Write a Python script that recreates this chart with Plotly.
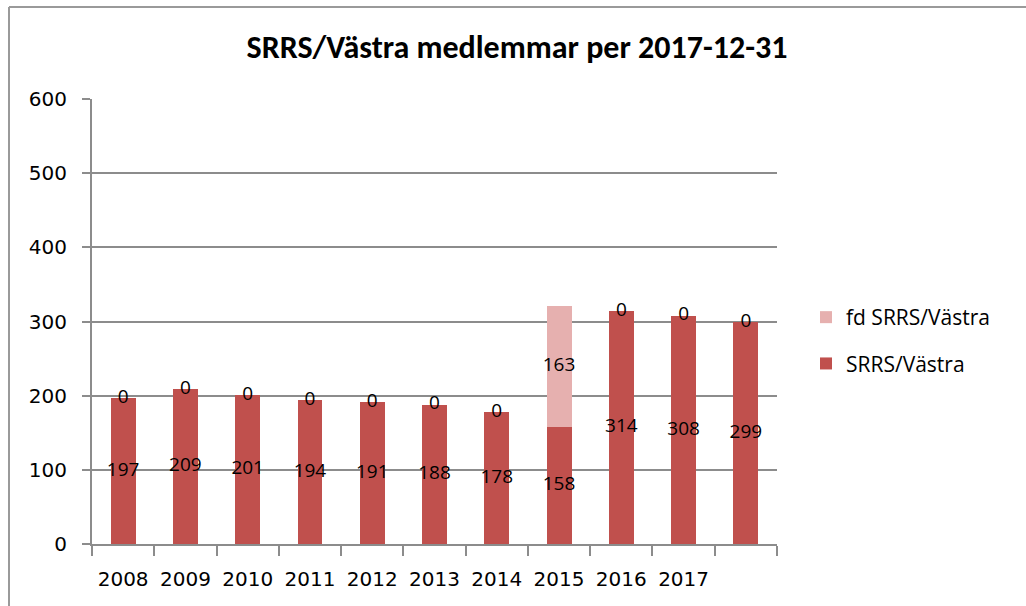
import plotly.graph_objects as go

# ---- data ----
years = ["2008", "2009", "2010", "2011", "2012", "2013", "2014", "2015", "2016", "2017"]
srrs_vastra = [197, 209, 201, 194, 191, 188, 178, 158, 314, 308, 299]
fd_srrs_vastra = [0, 0, 0, 0, 0, 0, 0, 163, 0, 0, 0]
y_ticks = [0, 100, 200, 300, 400, 500, 600]

DARK = "#C0504D"
LIGHT = "#E6B0AF"
GRID = "#8C8C8C"
LABEL_FONT = "Open Sans, Carlito, sans-serif"
TICK_FONT = "DejaVu Sans, Verdana, sans-serif"

W, H = 1026, 606
ML, MR, MT, MB = 92, 249, 99, 62

xpos = list(range(len(srrs_vastra)))
srrs_mid = [v / 2 for v in srrs_vastra]
fd_mid = [a + b / 2 for a, b in zip(srrs_vastra, fd_srrs_vastra)]

fig = go.Figure()
fig.add_trace(go.Bar(
    x=xpos, y=srrs_vastra, name="SRRS/Västra", marker_color=DARK,
    marker_line_width=0, legendgroup="b", legendrank=2, hoverinfo="skip",
))
fig.add_trace(go.Bar(
    x=xpos, y=fd_srrs_vastra, name="fd SRRS/Västra", marker_color=LIGHT,
    marker_line_width=0, legendgroup="a", legendrank=1, hoverinfo="skip",
))
fig.add_trace(go.Scatter(
    x=xpos, y=srrs_mid, mode="text", text=[str(v) for v in srrs_vastra],
    textposition="middle center", showlegend=False, hoverinfo="skip",
    textfont=dict(family=LABEL_FONT, size=19, color="#000000"),
))
fig.add_trace(go.Scatter(
    x=xpos, y=fd_mid, mode="text", text=[str(v) for v in fd_srrs_vastra],
    textposition="middle center", showlegend=False, hoverinfo="skip",
    textfont=dict(family=LABEL_FONT, size=19, color="#000000"),
))

pw = W - ML - MR
ph = H - MT - MB
def px_x(p):
    return (p - ML) / pw
def px_y(p):
    return 1 - (p - MT) / ph

# outer chart border (top and left)
fig.add_shape(type="line", xref="paper", yref="paper",
              x0=px_x(9), x1=px_x(W + 5), y0=px_y(7), y1=px_y(7),
              line=dict(color="#9A9A9A", width=2))
fig.add_shape(type="line", xref="paper", yref="paper",
              x0=px_x(9), x1=px_x(9), y0=px_y(7), y1=px_y(H + 5),
              line=dict(color="#9A9A9A", width=2))

fig.update_layout(
    width=W, height=H,
    margin=dict(l=ML, r=MR, t=MT, b=MB, pad=0),
    barmode="stack", bargap=0.6,
    plot_bgcolor="white", paper_bgcolor="white",
    title=dict(text="<b>SRRS/Västra medlemmar per 2017-12-31</b>",
               x=517 / W, xanchor="center", y=1 - 47 / H, yanchor="middle",
               xref="container", yref="container",
               font=dict(family="Carlito, Lato, sans-serif", size=32, color="#000000")),
    legend=dict(x=px_x(806), y=px_y(297), xanchor="left", yanchor="top",
                traceorder="grouped", tracegroupgap=16,
                font=dict(family=LABEL_FONT, size=21, color="#000000"),
                bgcolor="rgba(0,0,0,0)"),
    showlegend=True,
)
fig.update_xaxes(
    range=[-0.5, len(srrs_vastra) - 0.5],
    tickmode="array", tickvals=list(range(len(years))), ticktext=years,
    ticks="", showgrid=False, zeroline=False,
    showline=True, linecolor=GRID, linewidth=2,
    minor=dict(tick0=-0.5, dtick=1, ticks="outside", ticklen=10,
               tickcolor=GRID, tickwidth=2, showgrid=False),
    tickfont=dict(family=TICK_FONT, size=20, color="#000000"),
    ticklabelstandoff=16,
)
fig.update_yaxes(
    range=[0, 600], tickmode="array", tickvals=y_ticks,
    ticks="outside", ticklen=8, tickcolor=GRID, tickwidth=2,
    showgrid=True, gridcolor=GRID, gridwidth=2, zeroline=False,
    showline=True, linecolor=GRID, linewidth=2,
    tickfont=dict(family=TICK_FONT, size=20, color="#000000"),
    ticklabelstandoff=11,
)

fig.write_html("out.html", config={"displayModeBar": False},
               post_script="document.body.style.margin='0';")
